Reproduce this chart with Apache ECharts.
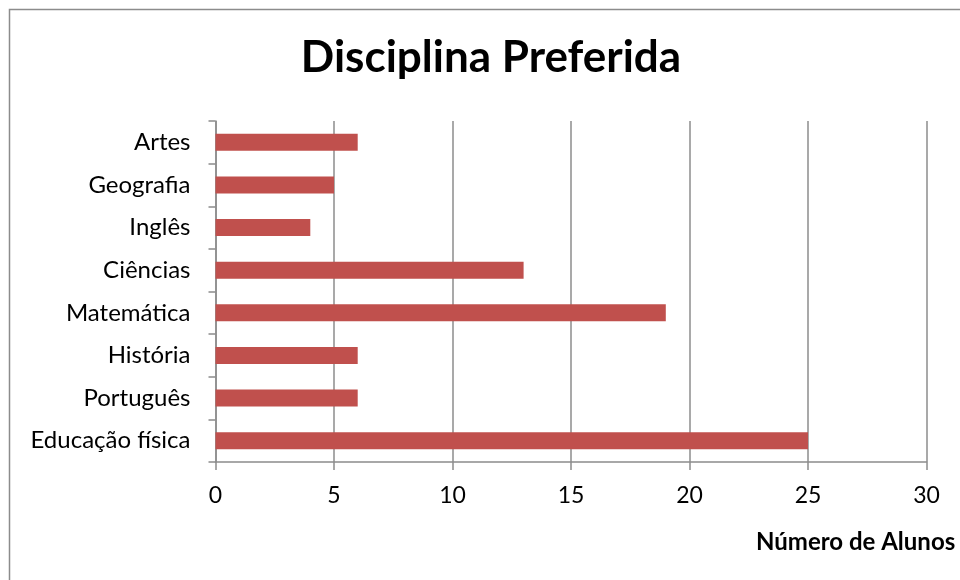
<!DOCTYPE html>
<html>
<head>
<meta charset="utf-8">
<script src="https://cdn.jsdelivr.net/npm/echarts@6/dist/echarts.min.js"></script>
<style>
  html, body { margin: 0; padding: 0; background: #fff; }
  #chart { width: 960px; height: 580px; }
</style>
</head>
<body>
<div id="chart"></div>
<script>
// Subjects listed bottom to top, as the category axis draws them
const disciplinas = ['Educação física', 'Português', 'História', 'Matemática', 'Ciências', 'Inglês', 'Geografia', 'Artes'];
const alunos = [25, 6, 6, 19, 13, 4, 5, 6];
const tituloGrafico = 'Disciplina Preferida';
const tituloEixo = 'Número de Alunos';

const fonte = 'Lato, "Open Sans", sans-serif';
const cinza = '#8c8c8c';

const chart = echarts.init(document.getElementById('chart'), null, { renderer: 'canvas' });
chart.setOption({
  animation: false,
  backgroundColor: '#fff',
  title: {
    text: tituloGrafico,
    left: 486,
    top: 31,
    textAlign: 'center',
    textStyle: { fontFamily: fonte, fontSize: 44, fontWeight: 'bold', color: '#000' }
  },
  graphic: [
    {
      type: 'rect',
      shape: { x: 9.5, y: 9.5, width: 1000, height: 1000 },
      style: { fill: 'none', stroke: cinza, lineWidth: 1.5 },
      silent: true
    },
    {
      type: 'text',
      left: 756,
      top: 530,
      style: { text: tituloEixo, fontFamily: fonte, fontSize: 24, fontWeight: 'bold', fill: '#000' }
    }
  ],
  grid: { left: 215.5, top: 121, width: 711, height: 341, containLabel: false },
  xAxis: {
    type: 'value',
    min: 0,
    max: 30,
    interval: 5,
    axisLine: { show: true, lineStyle: { color: cinza, width: 1.5 } },
    axisTick: { show: true, length: 8, lineStyle: { color: cinza, width: 1.5 } },
    splitLine: { show: true, lineStyle: { color: cinza, width: 1.5 } },
    axisLabel: { margin: 22, fontFamily: fonte, fontSize: 23, color: '#000' }
  },
  yAxis: {
    type: 'category',
    data: disciplinas,
    axisLine: { show: true, lineStyle: { color: cinza, width: 1.5 } },
    axisTick: { show: true, length: 7, alignWithLabel: false, lineStyle: { color: cinza, width: 1.5 } },
    axisLabel: { margin: 25, fontFamily: fonte, fontSize: 24, color: '#000' }
  },
  series: [{
    type: 'bar',
    data: alunos,
    barWidth: 17,
    itemStyle: { color: '#C0504D' }
  }]
});
</script>
</body>
</html>
